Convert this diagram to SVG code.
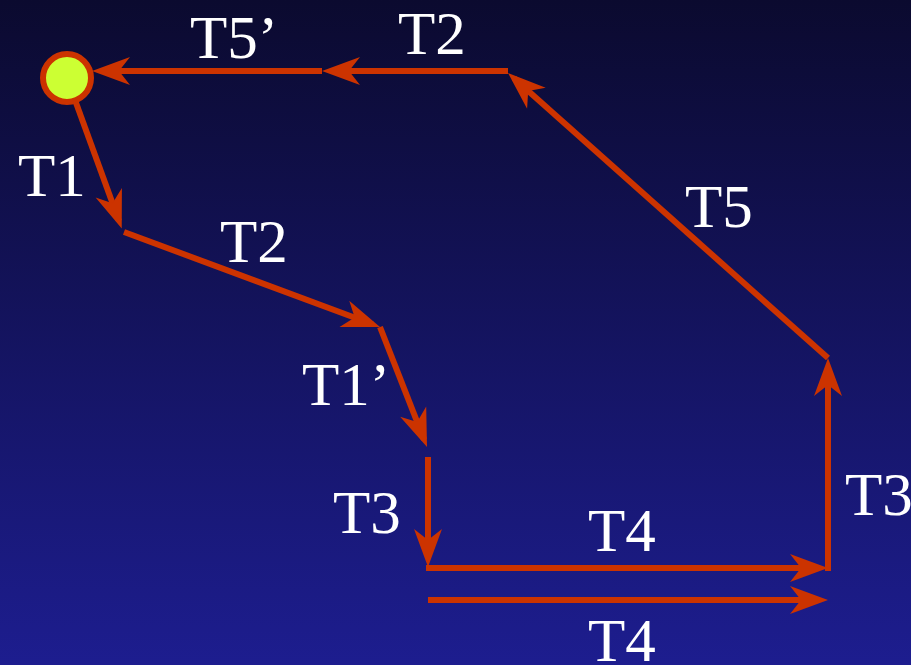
<svg xmlns="http://www.w3.org/2000/svg" width="911" height="665" viewBox="0 0 911 665">
<defs>
<linearGradient id="bg" x1="0" y1="0" x2="0" y2="1">
<stop offset="0" stop-color="#0b0a2f"/>
<stop offset="1" stop-color="#1d1d8f"/>
</linearGradient>
<marker id="ah" markerUnits="userSpaceOnUse" viewBox="-32 -15 42 30" markerWidth="42" markerHeight="30" refX="0" refY="0" orient="auto">
<path d="M8,0 L-30,-14 L-19,0 L-30,14 Z" fill="#cc3300"/>
</marker>
</defs>
<style>
.c{stroke:#cc3300;stroke-width:6;fill:none;marker-end:url(#ah)}
.t{font-family:"Liberation Serif","Times New Roman",serif;font-size:61px;fill:#ffffff}
</style>
<rect width="911" height="665" fill="url(#bg)"/>
<g id="connectors">
<line class="c" x1="75" y1="100" x2="119" y2="221"/>
<line class="c" x1="124" y1="232" x2="372.5" y2="324.2"/>
<line class="c" x1="380" y1="327" x2="424.1" y2="439.6"/>
<line class="c" x1="428" y1="457" x2="428" y2="559"/>
<line class="c" x1="426" y1="568" x2="820" y2="568"/>
<line class="c" x1="828" y1="571" x2="828" y2="366"/>
<line class="c" x1="828" y1="358" x2="514" y2="78.3"/>
<line class="c" x1="508" y1="71" x2="330" y2="71"/>
<line class="c" x1="322" y1="71" x2="100" y2="71"/>
<line class="c" x1="428" y1="600" x2="820" y2="600"/>
</g>
<g id="start">
<circle cx="67" cy="78" r="24" fill="#ccff33" stroke="#cc3300" stroke-width="6"/>
</g>
<g id="labels">
<text class="t" x="190" y="58">T5’</text>
<text class="t" x="398" y="54">T2</text>
<text class="t" x="18" y="196">T1</text>
<text class="t" x="220" y="262">T2</text>
<text class="t" x="685" y="227">T5</text>
<text class="t" x="302" y="405">T1’</text>
<text class="t" x="333" y="533">T3</text>
<text class="t" x="588" y="551">T4</text>
<text class="t" x="845" y="515">T3</text>
<text class="t" x="588" y="661">T4</text>
</g>
</svg>
